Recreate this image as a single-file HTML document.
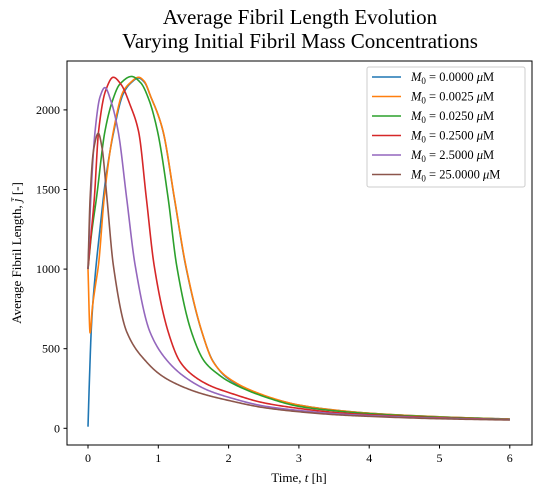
<!DOCTYPE html>
<html><head><meta charset="utf-8"><style>
html,body{margin:0;padding:0;background:#fff;}
svg{display:block;font-family:"Liberation Serif",serif;}
</style></head><body>
<svg id="chart" width="542" height="496" viewBox="0 0 542 496">
<rect x="0" y="0" width="542" height="496" fill="#fff"/>
<text x="300" y="24" text-anchor="middle" font-size="21">Average Fibril Length Evolution</text>
<text x="300" y="48" text-anchor="middle" font-size="21">Varying Initial Fibril Mass Concentrations</text>
<g id="ticks"></g>
<clipPath id="clip"><rect x="67" y="61" width="465" height="384"/></clipPath>
<g id="series" clip-path="url(#clip)"></g>
<rect x="67" y="61" width="465" height="384" fill="none" stroke="#000" stroke-width="1"/>
<text x="299" y="482" text-anchor="middle" font-size="13">Time, <tspan font-style="italic">t</tspan> [h]</text>
<text transform="translate(21,253) rotate(-90)" text-anchor="middle" font-size="13">Average Fibril Length, <tspan font-style="italic">j̄</tspan> [-]</text>
<g id="legend">
<rect x="367" y="67" width="158" height="120" rx="2" fill="#fff" fill-opacity="0.8" stroke="#ccc" stroke-width="1"/>
</g>
</svg>
<script>
const colors=["#1f77b4","#ff7f0e","#2ca02c","#d62728","#9467bd","#8c564b"];
const labels=["0.0000","0.0025","0.0250","0.2500","2.5000","25.0000"];
const xTicks=[0,1,2,3,4,5,6];
const yTicks=[0,500,1000,1500,2000];
const tBlue=[0,0.02,0.05,0.1,0.17,0.25,0.36,0.5,0.6,0.72,0.8,0.9,1.0,1.07,1.23,1.39,1.62,1.78,2.0,2.5,3,3.5,4,5,6];
const vBlue=[10,300,650,950,1250,1560,1850,2100,2165,2200,2175,2075,1965,1860,1440,1020,605,420,310,205,146,115,95,72,58];
const tOrange=[0,0.03,0.06,0.1,0.15,0.23,0.36,0.5,0.6,0.72,0.8,0.9,1.0,1.07,1.23,1.39,1.62,1.78,2.0,2.5,3,3.5,4,5,6];
const vOrange=[1000,600,750,880,1030,1445,1863,2115,2170,2205,2180,2075,1965,1863,1445,1026,607,418,315,208,146,115,95,72,58];
const tGreen=[0,0.05,0.12,0.24,0.35,0.45,0.62,0.75,0.87,0.99,1.14,1.26,1.47,1.66,1.85,2.0,2.5,3,3.5,4,5,6];
const vGreen=[1000,1220,1445,1863,2060,2160,2210,2170,2060,1863,1445,1026,607,418,340,295,200,138,110,92,70,57];
const tRed=[0,0.04,0.09,0.15,0.25,0.36,0.47,0.6,0.72,0.83,0.94,1.14,1.31,1.5,1.75,2.0,2.5,3,3.5,4,5,6];
const vRed=[1000,1200,1445,1863,2120,2205,2160,2030,1863,1445,1026,607,418,330,265,225,160,125,100,85,66,55];
const tPurple=[0,0.04,0.1,0.17,0.24,0.33,0.43,0.55,0.67,0.88,1.14,1.4,1.7,2.0,2.5,3,3.5,4,5,6];
const vPurple=[1000,1445,1863,2080,2140,2050,1863,1445,1026,607,418,315,240,195,140,112,92,80,63,54];
const tBrown=[0,0.03,0.08,0.147,0.2,0.27,0.36,0.55,0.83,1.05,1.3,1.6,2.0,2.5,3,3.5,4,5,6];
const vBrown=[1000,1445,1750,1853,1760,1445,1026,607,418,330,270,220,175,130,104,86,75,60,52];
const seriesT=[tBlue,tOrange,tGreen,tRed,tPurple,tBrown];
const seriesV=[vBlue,vOrange,vGreen,vRed,vPurple,vBrown];
const seriesNames=["series-m0-0","series-m0-0025","series-m0-025","series-m0-25","series-m0-2-5","series-m0-25-0"];
const X=t=>88+70.3*t;
const Y=v=>428.3-v*0.1592;
const NS="http://www.w3.org/2000/svg";
const ticks=document.getElementById('ticks');
function mk(tag,attrs,parent){const e=document.createElementNS(NS,tag);for(const k in attrs)e.setAttribute(k,attrs[k]);parent.appendChild(e);return e;}
xTicks.forEach(t=>{
 const l=mk('line',{x1:X(t),x2:X(t),y1:445,y2:448.5,stroke:'#000'},ticks);
 
 
 const tx=mk('text',{x:X(t),y:462,'text-anchor':'middle','font-size':'12'},ticks);
 tx.textContent=t;
 
 
});
yTicks.forEach(v=>{
 const l=mk('line',{x1:63.5,x2:67,y1:Y(v),y2:Y(v),stroke:'#000'},ticks);
 
 
 const tx=mk('text',{x:60,y:Y(v)+4,'text-anchor':'end','font-size':'12'},ticks);
 tx.textContent=v;
 
 
});
// monotone cubic (Fritsch-Carlson) interpolation in data space
function monotone(ts,vs){
 const n=ts.length,d=[],m=new Array(n);
 for(let i=0;i<n-1;i++)d.push((vs[i+1]-vs[i])/(ts[i+1]-ts[i]));
 m[0]=d[0];m[n-1]=d[n-2];
 for(let i=1;i<n-1;i++){
  if(d[i-1]*d[i]<=0)m[i]=0;
  else{const h0=ts[i]-ts[i-1],h1=ts[i+1]-ts[i];const w1=2*h1+h0,w2=h1+2*h0;m[i]=(w1+w2)/(w1/d[i-1]+w2/d[i]);}
 }
 return m;
}
function pathFor(ts,vs){
 const m=monotone(ts,vs);
 let d='M'+X(ts[0]).toFixed(2)+','+Y(vs[0]).toFixed(2);
 for(let i=0;i<ts.length-1;i++){
  const h=ts[i+1]-ts[i],steps=24;
  for(let s=1;s<=steps;s++){
   const u=s/steps,u2=u*u,u3=u2*u;
   const v=(2*u3-3*u2+1)*vs[i]+(u3-2*u2+u)*h*m[i]+(-2*u3+3*u2)*vs[i+1]+(u3-u2)*h*m[i+1];
   d+=' L'+X(ts[i]+u*h).toFixed(2)+','+Y(v).toFixed(2);
  }
 }
 return d;
}
const sg=document.getElementById('series');
seriesT.forEach((ts,i)=>{
 const path=mk('path',{d:pathFor(ts,seriesV[i]),fill:'none',stroke:colors[i],'stroke-width':'1.6','stroke-linejoin':'round'},sg);
 
 
});
const lg=document.getElementById('legend');
labels.forEach((lab,i)=>{
 const y=77+i*19.5;
 const l=mk('line',{x1:372,x2:401,y1:y,y2:y,stroke:colors[i],'stroke-width':'1.6'},lg);
 
 
 const tx=mk('text',{x:411,y:y+4,'font-size':'12.5'},lg);
 tx.innerHTML='<tspan font-style="italic">M</tspan><tspan font-size="9" dy="3">0</tspan><tspan dy="-3"> = '+lab+' </tspan><tspan font-style="italic">μ</tspan>M';
 
 
});
</script>
</body></html>
